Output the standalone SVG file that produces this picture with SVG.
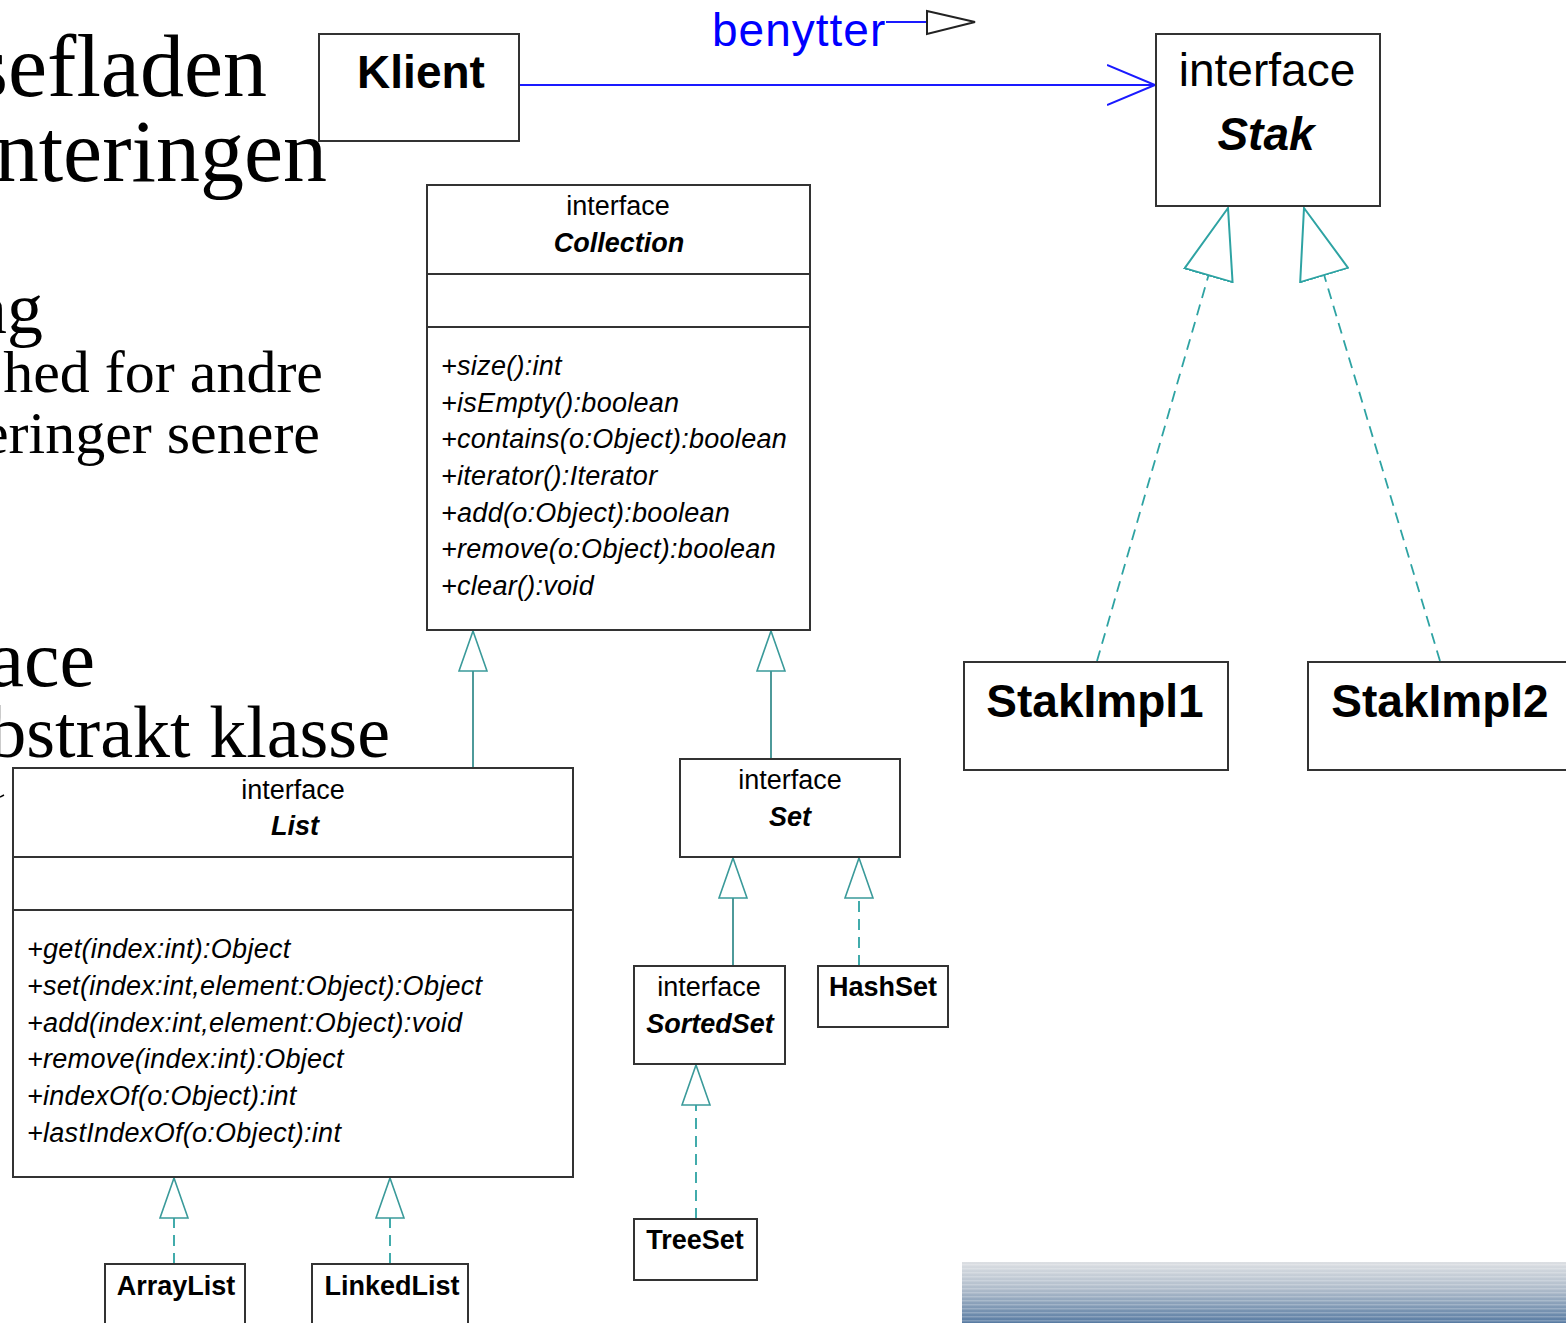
<svg xmlns="http://www.w3.org/2000/svg" width="1566" height="1323" viewBox="0 0 1566 1323">
<style>
.bg{font-family:"Liberation Serif","Times New Roman",serif;fill:#000;text-anchor:end}
.u{font-family:"Liberation Sans",Arial,sans-serif;fill:#000}
.c{text-anchor:middle}
.st{font-size:27px}
.nm{font-size:27px;font-weight:bold;font-style:italic}
.cl{font-size:27px;font-weight:bold}
.big{font-size:46px;font-weight:bold}
.m{font-size:27px;font-style:italic;letter-spacing:0.28px}
.box{fill:#fff;stroke:#333;stroke-width:2}
.sol{fill:none;stroke:#3a8f8f;stroke-width:1.8}
.dash{fill:none;stroke:#2ea3a3;stroke-width:1.8;stroke-dasharray:11 7}
</style>
<defs>
<marker id="tri" markerUnits="userSpaceOnUse" viewBox="0 0 42 30" markerWidth="42" markerHeight="30" refX="41" refY="15" orient="auto">
<path d="M1,1 L41,15 L1,29 Z" fill="#fff" stroke="#3a9a9a" stroke-width="1.6"/>
</marker>
<marker id="triBig" markerUnits="userSpaceOnUse" viewBox="0 0 72 52" markerWidth="72" markerHeight="52" refX="71" refY="26" orient="auto">
<path d="M1,1 L71,26 L1,51 Z" fill="#fff" stroke="#2ea3a3" stroke-width="2"/>
</marker>
<marker id="open" markerUnits="userSpaceOnUse" viewBox="0 0 50 42" markerWidth="50" markerHeight="42" refX="48" refY="21" orient="auto">
<path d="M0,1 L48,21 L0,41" fill="none" stroke="#1a1aff" stroke-width="2"/>
</marker>
<linearGradient id="band" x1="0" y1="0" x2="0" y2="1">
<stop offset="0" stop-color="#dcdfe3"/>
<stop offset="0.45" stop-color="#aebbca"/>
<stop offset="1" stop-color="#587ba2"/>
</linearGradient>
<pattern id="stripes" patternUnits="userSpaceOnUse" width="40" height="4">
<rect x="0" y="0" width="40" height="1.5" fill="#fff" opacity="0.22"/>
</pattern>
</defs>

<g id="slide-text">
<text class="bg" x="267" y="96" font-size="88">sefladen</text>
<text class="bg" x="327" y="181" font-size="88">nteringen</text>
<text class="bg" x="43" y="333" font-size="72">ng</text>
<text class="bg" x="323" y="392" font-size="60">hed for andre</text>
<text class="bg" x="320" y="453" font-size="60">eringer senere</text>
<text class="bg" x="95" y="686" font-size="80">ace</text>
<text class="bg" x="390" y="757" font-size="74">bstrakt klasse</text>
<path d="M0,797 L4,795" stroke="#000" stroke-width="1.5"/>
</g>

<g id="banner">
<rect x="962" y="1262" width="604" height="61" fill="url(#band)"/>
<rect x="962" y="1262" width="604" height="61" fill="url(#stripes)"/>
</g>

<g id="connectors">
<line x1="519" y1="85" x2="1155" y2="85" stroke="#1a1aff" stroke-width="2" marker-end="url(#open)"/>
<line class="dash" x1="1097" y1="661" x2="1228" y2="208" marker-end="url(#triBig)"/>
<line class="dash" x1="1440" y1="661" x2="1304" y2="208" marker-end="url(#triBig)"/>
<line class="sol" x1="473" y1="768" x2="473" y2="631" marker-end="url(#tri)"/>
<line class="sol" x1="771" y1="759" x2="771" y2="631" marker-end="url(#tri)"/>
<line class="sol" x1="733" y1="966" x2="733" y2="858" marker-end="url(#tri)"/>
<line class="dash" x1="859" y1="966" x2="859" y2="858" marker-end="url(#tri)"/>
<line class="dash" x1="696" y1="1219" x2="696" y2="1065" marker-end="url(#tri)"/>
<line class="dash" x1="174" y1="1264" x2="174" y2="1178" marker-end="url(#tri)"/>
<line class="dash" x1="390" y1="1264" x2="390" y2="1178" marker-end="url(#tri)"/>
</g>

<g id="label-benytter">
<text x="712" y="46" font-family="Liberation Sans, Arial, sans-serif" font-size="46" letter-spacing="1" fill="#0000ff">benytter</text>
<line x1="886" y1="22" x2="927" y2="22" stroke="#1a1aff" stroke-width="2"/>
<path d="M927,11 L975,22 L927,34 Z" fill="#fff" stroke="#222" stroke-width="2"/>
</g>

<g id="Klient">
<rect class="box" x="319" y="34" width="200" height="107"/>
<text class="u big c" x="421" y="88">Klient</text>
</g>

<g id="Stak">
<rect class="box" x="1156" y="34" width="224" height="172"/>
<text class="u c" x="1267" y="86" font-size="46">interface</text>
<text class="u c" x="1266" y="150" font-size="46" font-weight="bold" font-style="italic">Stak</text>
</g>

<g id="StakImpl1">
<rect class="box" x="964" y="662" width="264" height="108"/>
<text class="u big c" x="1095" y="717">StakImpl1</text>
</g>

<g id="StakImpl2">
<rect class="box" x="1308" y="662" width="264" height="108"/>
<text class="u big c" x="1440" y="717">StakImpl2</text>
</g>

<g id="Collection">
<rect class="box" x="427" y="185" width="383" height="445"/>
<line x1="427" y1="274" x2="810" y2="274" stroke="#333" stroke-width="2"/>
<line x1="427" y1="327" x2="810" y2="327" stroke="#333" stroke-width="2"/>
<text class="u st c" x="618" y="215">interface</text>
<text class="u nm c" x="619" y="252">Collection</text>
<text class="u m" x="441" y="375">+size():int</text>
<text class="u m" x="441" y="412">+isEmpty():boolean</text>
<text class="u m" x="441" y="448">+contains(o:Object):boolean</text>
<text class="u m" x="441" y="485">+iterator():Iterator</text>
<text class="u m" x="441" y="522">+add(o:Object):boolean</text>
<text class="u m" x="441" y="558">+remove(o:Object):boolean</text>
<text class="u m" x="441" y="595">+clear():void</text>
</g>

<g id="List">
<rect class="box" x="13" y="768" width="560" height="409"/>
<line x1="13" y1="857" x2="573" y2="857" stroke="#333" stroke-width="2"/>
<line x1="13" y1="910" x2="573" y2="910" stroke="#333" stroke-width="2"/>
<text class="u st c" x="293" y="799">interface</text>
<text class="u nm c" x="295" y="835">List</text>
<text class="u m" x="27" y="958">+get(index:int):Object</text>
<text class="u m" x="27" y="995">+set(index:int,element:Object):Object</text>
<text class="u m" x="27" y="1032">+add(index:int,element:Object):void</text>
<text class="u m" x="27" y="1068">+remove(index:int):Object</text>
<text class="u m" x="27" y="1105">+indexOf(o:Object):int</text>
<text class="u m" x="27" y="1142">+lastIndexOf(o:Object):int</text>
</g>

<g id="Set">
<rect class="box" x="680" y="759" width="220" height="98"/>
<text class="u st c" x="790" y="789">interface</text>
<text class="u nm c" x="790" y="826">Set</text>
</g>

<g id="SortedSet">
<rect class="box" x="634" y="966" width="151" height="98"/>
<text class="u st c" x="709" y="996">interface</text>
<text class="u nm c" x="710" y="1033">SortedSet</text>
</g>

<g id="HashSet">
<rect class="box" x="818" y="966" width="130" height="61"/>
<text class="u cl c" x="883" y="996">HashSet</text>
</g>

<g id="TreeSet">
<rect class="box" x="634" y="1219" width="123" height="61"/>
<text class="u cl c" x="695" y="1249">TreeSet</text>
</g>

<g id="ArrayList">
<rect class="box" x="105" y="1264" width="140" height="70"/>
<text class="u cl c" x="176" y="1295">ArrayList</text>
</g>

<g id="LinkedList">
<rect class="box" x="312" y="1264" width="156" height="70"/>
<text class="u cl c" x="392" y="1295">LinkedList</text>
</g>
</svg>
